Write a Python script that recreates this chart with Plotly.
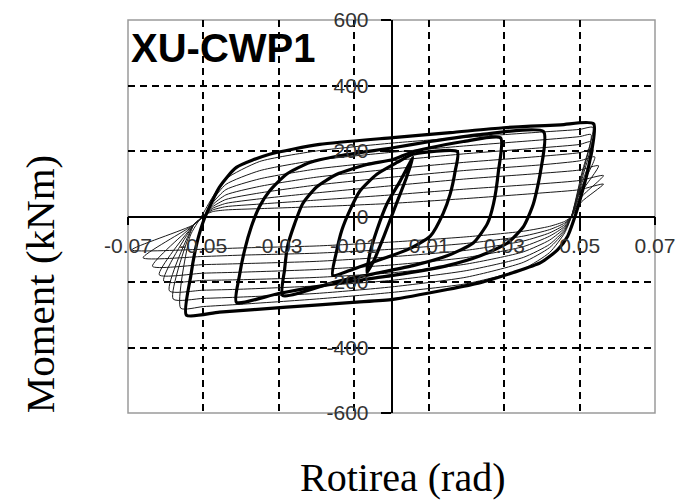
import plotly.graph_objects as go

# ---------------- data ----------------
x_ticks = [-0.07, -0.05, -0.03, -0.01, 0.01, 0.03, 0.05, 0.07]
x_labels = ["-0.07", "-0.05", "-0.03", "-0.01", "0.01", "0.03", "0.05", "0.07"]
x_grid = [-0.05, -0.03, -0.01, 0.01, 0.03, 0.05]
y_ticks = [-600, -400, -200, 0, 200, 400, 600]
y_labels = ["-600", "-400", "-200", "0", "200", "400", "600"]
y_grid = [-400, -200, 200, 400]

# thick (main) hysteresis loops: rotation (rad) and moment (kNm)
loop1_x = [-0.0065, -0.0057, -0.0039, -0.0012, 0.0023, 0.0057,
           0.004, 0.001, -0.002, -0.0045, -0.0065]
loop1_y = [-171, -111, -42, 39, 108, 180,
           120, 30, -60, -130, -171]

loop2_x = [-0.0156, -0.0145, -0.0132, -0.0111, -0.0084, -0.0039, 0.0015, 0.0057, 0.0175,
           0.0169, 0.0156, 0.0137, 0.0103, 0.0041, -0.0031, -0.01, -0.0156]
loop2_y = [-180, -102, -42, 18, 78, 129, 165, 190, 198,
           138, 69, 9, -60, -102, -132, -160, -180]

loop3_x = [-0.0289, -0.0284, -0.0276, -0.0257, -0.0236, -0.0199, -0.0145, -0.0065, 0.0004, 0.0057, 0.0191, 0.029,
           0.0284, 0.0271, 0.0255, 0.0217, 0.0148, 0.0057, -0.0031, -0.015, -0.0289]
loop3_y = [-241, -162, -90, -21, 39, 90, 129, 159, 174, 198, 229, 240,
           138, 39, -21, -81, -120, -150, -171, -200, -241]

loop4_x = [-0.0412, -0.0404, -0.039, -0.0372, -0.0351, -0.0324, -0.0279, -0.0217, -0.0145, 0.0004, 0.0103, 0.0236, 0.0404,
           0.0396, 0.0377, 0.0351, 0.0308, 0.0236, 0.0148, 0.0004, -0.015, -0.03, -0.0412]
loop4_y = [-262, -181, -102, -30, 30, 78, 129, 165, 184, 210, 229, 250, 259,
           138, 39, -30, -81, -120, -150, -180, -205, -235, -262]

loop5_x = [-0.0545, -0.0533, -0.0517, -0.0497, -0.0457, -0.0412, -0.0324, -0.0191, 0.0004, 0.0156, 0.0297, 0.0449, 0.0537,
           0.0521, 0.0503, 0.049, 0.0468, 0.0441, 0.0396, 0.0324, 0.0236, 0.0148, 0.0004, -0.0103, -0.0279, -0.0457, -0.0545]
loop5_y = [-301, -180, -81, -6, 90, 150, 190, 220, 241, 256, 271, 280, 283,
           138, 60, 9, -60, -102, -141, -171, -202, -223, -253, -262, -277, -292, -301]

# thin (repeated, degrading) cycles
cyc1_x = [-0.056, -0.0535, -0.0505, -0.0475, -0.044, -0.035, -0.02, 0.0, 0.02, 0.04, 0.05, 0.0535,
          0.0505, 0.0478, 0.046, 0.042, 0.035, 0.02, 0.0, -0.02, -0.04, -0.05, -0.056]
cyc1_y = [-280, -60, 0, 60, 115, 168, 200, 224, 242, 258, 266, 272,
          130, 0, -50, -110, -160, -205, -232, -252, -268, -275, -280]

cyc2_x = [-0.058, -0.0525, -0.0495, -0.0475, -0.044, -0.035, -0.02, 0.0, 0.02, 0.04, 0.05, 0.053,
          0.0505, 0.0478, 0.046, 0.042, 0.035, 0.02, 0.0, -0.02, -0.04, -0.05, -0.058]
cyc2_y = [-252, -25, 5, 50, 98, 140, 172, 196, 216, 234, 244, 250,
          120, 0, -45, -95, -140, -185, -215, -235, -246, -250, -252]

cyc3_x = [-0.059, -0.0525, -0.0495, -0.0475, -0.044, -0.035, -0.02, 0.0, 0.02, 0.04, 0.05, 0.053,
          0.0505, 0.0478, 0.046, 0.042, 0.035, 0.02, 0.0, -0.02, -0.04, -0.05, -0.059]
cyc3_y = [-227, -25, 5, 42, 82, 115, 145, 170, 192, 210, 220, 228,
          110, 0, -40, -85, -125, -165, -195, -212, -222, -225, -227]

cyc4_x = [-0.0605, -0.0525, -0.0495, -0.0475, -0.044, -0.035, -0.02, 0.0, 0.02, 0.04, 0.05, 0.0535,
          0.0505, 0.0478, 0.046, 0.042, 0.035, 0.02, 0.0, -0.02, -0.04, -0.05, -0.0605]
cyc4_y = [-197, -25, 5, 36, 66, 92, 120, 145, 166, 184, 195, 205,
          100, 0, -35, -72, -108, -145, -172, -186, -193, -195, -197]

cyc5_x = [-0.0617, -0.0525, -0.0495, -0.0475, -0.044, -0.035, -0.02, 0.0, 0.02, 0.04, 0.05, 0.054,
          0.0505, 0.0478, 0.046, 0.042, 0.035, 0.02, 0.0, -0.02, -0.04, -0.05, -0.0617]
cyc5_y = [-178, -25, 5, 30, 52, 72, 96, 120, 141, 158, 170, 182,
          90, 0, -30, -60, -92, -125, -148, -162, -170, -173, -178]

cyc6_x = [-0.0635, -0.0525, -0.0495, -0.0475, -0.044, -0.035, -0.02, 0.0, 0.02, 0.04, 0.05, 0.055,
          0.0505, 0.0478, 0.046, 0.042, 0.035, 0.02, 0.0, -0.02, -0.04, -0.05, -0.0635]
cyc6_y = [-152, -25, 5, 25, 40, 54, 72, 94, 115, 132, 142, 155,
          75, 0, -25, -50, -75, -103, -123, -137, -144, -147, -152]

cyc7_x = [-0.066, -0.0525, -0.0495, -0.0475, -0.044, -0.035, -0.02, 0.0, 0.02, 0.04, 0.05, 0.0563,
          0.0505, 0.0478, 0.046, 0.042, 0.035, 0.02, 0.0, -0.02, -0.04, -0.05, -0.066]
cyc7_y = [-126, -25, 5, 20, 30, 38, 50, 66, 84, 100, 110, 125,
          60, 0, -20, -40, -60, -82, -100, -112, -118, -122, -126]

cyc8_x = [-0.069, -0.0525, -0.0495, -0.0475, -0.044, -0.035, -0.02, 0.0, 0.02, 0.04, 0.05, 0.0563,
          0.0505, 0.0478, 0.046, 0.042, 0.035, 0.02, 0.0, -0.02, -0.04, -0.05, -0.069]
cyc8_y = [-102, -25, 5, 15, 20, 24, 30, 40, 55, 72, 82, 99,
          45, 0, -15, -30, -45, -62, -78, -90, -96, -100, -102]

thin_cycles = [(cyc1_x, cyc1_y), (cyc2_x, cyc2_y), (cyc3_x, cyc3_y), (cyc4_x, cyc4_y),
               (cyc5_x, cyc5_y), (cyc6_x, cyc6_y), (cyc7_x, cyc7_y), (cyc8_x, cyc8_y)]
thick_loops = [(loop1_x, loop1_y), (loop2_x, loop2_y), (loop3_x, loop3_y),
               (loop4_x, loop4_y), (loop5_x, loop5_y)]

# ---------------- figure ----------------
fig = go.Figure()
for cx, cy in thin_cycles:
    fig.add_trace(go.Scatter(x=cx, y=cy, mode="lines", line=dict(color="#1a1a1a", width=1, shape="spline", smoothing=0.6),
                             hoverinfo="skip"))
for lx, ly in thick_loops:
    fig.add_trace(go.Scatter(x=lx, y=ly, mode="lines", line=dict(color="black", width=3.2, shape="spline", smoothing=0.6),
                             hoverinfo="skip"))

tick_font = dict(family="Liberation Sans, Arial, sans-serif", size=21, color="#333333")
grid_minor_x = dict(tickvals=x_grid, showgrid=True, gridcolor="black", griddash="7px,5px", gridwidth=1.5)
grid_minor_y = dict(tickvals=y_grid, showgrid=True, gridcolor="black", griddash="7px,5px", gridwidth=1.5)

fig.update_layout(
    width=689, height=504,
    margin=dict(l=120, r=42, t=12, b=99, autoexpand=False),
    paper_bgcolor="white", plot_bgcolor="white",
    showlegend=False,
    xaxis=dict(range=[-0.07, 0.07], tickvals=x_ticks, ticktext=x_labels, automargin=False,
               anchor="free", position=0.5, showline=True, linecolor="black", linewidth=1.5,
               ticks="outside", ticklen=8, tickwidth=1.5, tickcolor="black", ticklabelstandoff=3,
               ticklabeloverflow="allow",
               showgrid=False, zeroline=False, tickfont=tick_font, minor=grid_minor_x),
    yaxis=dict(range=[-600, 600], tickvals=y_ticks, ticktext=y_labels, automargin=False,
               anchor="free", position=0.5, showline=True, linecolor="black", linewidth=1.5,
               ticks="outside", ticklen=10, tickwidth=1.5, tickcolor="black", ticklabelstandoff=8,
               ticklabeloverflow="allow",
               showgrid=False, zeroline=False, tickfont=tick_font, minor=grid_minor_y),
    shapes=[dict(type="rect", xref="paper", yref="paper", x0=0, x1=1, y0=0, y1=1,
                 line=dict(color="#9a9a9a", width=1.5), layer="below")],
    annotations=[
        dict(text="<b>XU-CWP1</b>", xref="paper", yref="paper", x=0.002, y=0.928,
             xanchor="left", yanchor="middle", showarrow=False,
             font=dict(family="Liberation Sans, Arial, sans-serif", size=40, color="black")),
        dict(text="Rotirea (rad)", xref="paper", yref="paper", x=0.52, y=-0.163,
             xanchor="center", yanchor="middle", showarrow=False,
             font=dict(family="Liberation Serif, Times New Roman, serif", size=40, color="black")),
        dict(text="Moment (kNm)", xref="paper", yref="paper", x=-0.167, y=0.33,
             xanchor="center", yanchor="middle", showarrow=False, textangle=-90,
             font=dict(family="Liberation Serif, Times New Roman, serif", size=41, color="black")),
    ],
)

fig.write_html("out.html")
